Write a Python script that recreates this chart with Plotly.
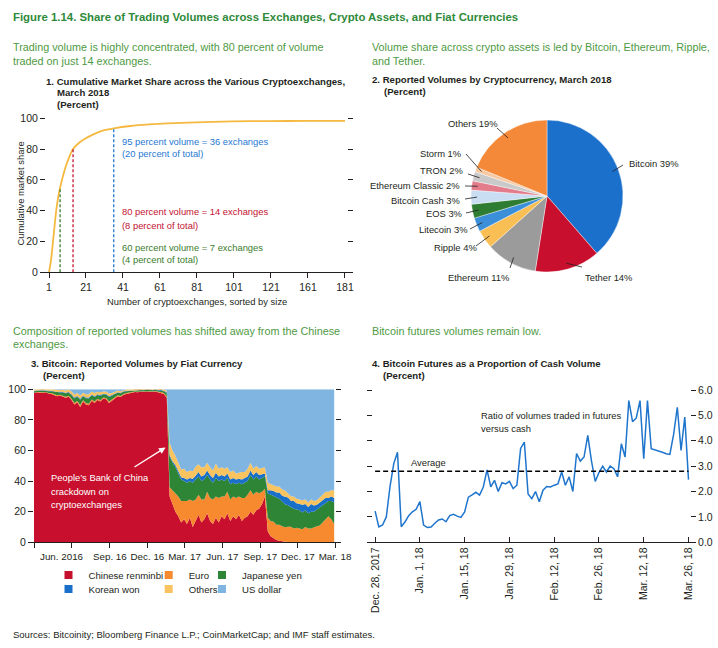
import math
import pandas as pd
import plotly.graph_objects as go

W, H = 718, 648
FONT = "Liberation Sans, Arial, sans-serif"
DARK = "#231f20"
GREEN_T = "#2f8a3a"
GREEN = "#4f9a44"

# ---------------- Panel 1 data ----------------
RANK = [1, 2, 3, 4, 5, 6, 7, 8, 10, 12, 14, 17, 20, 25, 30, 36, 45, 55, 65, 80, 100, 120, 140, 161]
CUM_SHARE = [0, 7, 18, 30, 41, 49, 55, 60, 68.6, 75, 80, 83.8, 86.4, 89.6, 92, 93.5, 95, 96,
             96.7, 97.4, 98, 98.2, 98.3, 98.3]
P1_TICKVALS = [1, 21, 41, 61, 81, 101, 121, 141, 161]
P1_TICKTEXT = ["1", "21", "41", "61", "81", "101", "121", "161", "181"]
THR_RANK = [7, 14, 36]
THR_SHARE = [55, 80, 93.5]
THR_COLORS = ["#3a7d2c", "#c41230", "#1f78d1"]

# ---------------- Panel 2 data ----------------
COINS = ["Bitcoin", "Tether", "Ethereum", "Ripple", "Litecoin", "EOS", "Bitcoin Cash",
         "Ethereum Classic", "TRON", "Storm", "Others"]
COIN_SHARE = [39, 14, 11, 4, 3, 3, 3, 2, 2, 1, 19]
COIN_COLORS = ["#1b70cc", "#c8102e", "#9b9b9b", "#f9bf55", "#3b8fd9", "#2e7d32", "#c9def3",
               "#e37d8c", "#c9c9c9", "#f7c9a2", "#f5893a"]

# ---------------- Panel 3 data (weekly, from 1 Mar 2016) ----------------
CNY = [97.5, 98.0, 97.8, 97.6, 98.0, 97.2, 97.0, 96.5,
       95.5, 96.0, 95.0, 94.5, 95.2,
       93.0, 90.0, 91.5, 88.5, 92.0, 90.0, 89.5, 92.5, 91.0, 93.0,
       92.0, 94.0, 93.5, 91.0, 92.5, 94.0, 95.5, 95.0, 96.5, 97.0,
       97.5, 98.0, 98.2, 98.0, 98.5, 98.3, 98.6, 98.4, 98.2, 98.5, 98.0, 97.8, 97.0, 94.5,
       30, 25, 20, 17, 13, 15, 12, 16, 10, 14,
       18, 13, 15, 19, 14, 12, 16, 13, 17, 15,
       19, 14, 17, 15, 18, 14, 16, 17, 20, 18,
       21, 22, 25, 30,
       7, 4, 2.5, 1.5, 1, 0.5, 0.3, 0.2, 0.1,
       0, 0, 0, 0, 0, 0, 0, 0, 0, 0, 0, 0, 0, 0, 0]
EUR = [0.3, 0.3, 0.4, 0.4, 0.3, 0.4, 0.5, 0.5, 0.6, 0.5,
       0.6, 0.7, 0.6, 0.8, 1.0, 0.9, 1.2, 0.9, 1.0, 1.1,
       0.9, 1.0, 0.8, 0.9, 0.7, 0.8, 1.0, 0.8, 0.7, 0.6,
       0.6, 0.5, 0.5, 0.4, 0.4, 0.3, 0.4, 0.3, 0.3, 0.3,
       0.4, 0.3, 0.4, 0.4, 0.5, 0.6, 1.0,
       6, 9, 12, 13, 14, 12, 15, 12, 17, 14,
       13, 15, 13, 14, 15, 16, 14, 16, 13, 15,
       14, 14, 13, 14, 12, 15, 13, 14, 14, 13,
       12, 10, 8, 5,
       9, 10, 11, 10, 10.5, 10, 9.5, 10, 10, 9,
       9.5, 9, 8.5, 10, 9, 9, 10, 10.5, 11, 13,
       15, 17, 15, 12]
JPY = [1.0, 0.8, 0.9, 1.0, 0.8, 1.2, 1.3, 1.5, 1.8, 1.6,
       2.0, 2.2, 2.0, 2.5, 3.0, 2.8, 3.5, 2.6, 3.2, 3.4,
       2.7, 3.0, 2.5, 2.8, 2.0, 2.2, 2.9, 2.4, 2.0, 1.6,
       1.8, 1.4, 1.3, 1.1, 0.9, 0.8, 0.9, 0.8, 0.7, 0.8,
       0.7, 0.8, 0.7, 0.9, 1.0, 1.2, 2.0,
       20, 18, 17, 15, 14, 13, 12, 12, 12, 13,
       12, 12, 13, 11, 12, 11, 12, 11, 11, 10,
       9, 10, 9, 9, 9, 9, 10, 9, 10, 10,
       10, 9, 9, 8,
       16, 17, 17, 18, 17, 16, 15, 14, 13, 13,
       12, 12, 11, 11, 10, 11, 10, 11, 12, 11,
       11, 10, 12, 14]
KRW = [0.2, 0.2, 0.2, 0.3, 0.2, 0.3, 0.3, 0.3, 0.3, 0.4,
       0.4, 0.4, 0.5, 0.5, 0.6, 0.5, 0.6, 0.5, 0.5, 0.6,
       0.5, 0.5, 0.4, 0.5, 0.4, 0.4, 0.5, 0.4, 0.4, 0.3,
       0.3, 0.3, 0.3, 0.2, 0.2, 0.2, 0.2, 0.2, 0.2, 0.2,
       0.2, 0.2, 0.2, 0.2, 0.3, 0.3, 0.5,
       1, 1, 1.5, 1.5, 1.5, 2, 2, 2, 2.5, 2.5,
       3, 3, 3, 3, 3, 3, 3.5, 3, 3, 3,
       3, 3, 3, 3, 2.5, 3, 3, 3, 3, 3,
       3, 3, 2.5, 2,
       2, 3, 3, 3, 4, 4, 5, 5, 4, 5,
       4, 4, 5, 4, 4, 5, 4, 3, 3, 3,
       3, 2, 3, 3]
OTH = [0.8, 0.7, 0.8, 0.9, 0.8, 1.0, 1.0, 1.1, 1.3, 1.2,
       1.5, 1.4, 1.6, 1.8, 2.0, 1.9, 2.2, 1.8, 2.0, 2.1,
       1.9, 2.0, 1.7, 1.8, 1.5, 1.6, 1.8, 1.5, 1.3, 1.2,
       1.1, 0.9, 0.8, 0.7, 0.6, 0.6, 0.6, 0.6, 0.5, 0.6,
       0.6, 0.5, 0.6, 0.6, 0.7, 0.8, 1.0,
       8, 7, 6, 6, 5, 6, 5, 5, 5, 6,
       5, 6, 5, 5, 5, 5, 6, 5, 5, 5,
       4, 5, 5, 4, 4, 5, 4, 5, 5, 4,
       4, 4, 4, 4,
       5, 4, 4, 4, 4, 4, 4, 3, 3, 3,
       3, 3, 3, 3, 3, 3, 3, 3, 3, 4,
       4, 4, 4, 5]
USD = [round(100 - a - b - c - d - e, 2) for a, b, c, d, e in zip(CNY, EUR, JPY, KRW, OTH)]
P3_DATES = pd.date_range("2016-03-01", periods=len(CNY), freq="7D")
P3_TICKVALS = ["2016-03-01", "2016-06-01", "2016-09-01", "2016-12-01", "2017-03-01",
               "2017-06-01", "2017-09-01", "2017-12-01", "2018-03-01"]
P3_TICKTEXT = ["", "", "Sep. 16", "Dec. 16", "Mar. 17", "Jun. 17",
               "Sep. 17", "Dec. 17", "Mar. 18"]
P3_FIRST_LABEL = "Jun. 2016"
FIAT = ["Chinese renminbi", "Euro", "Japanese yen", "Korean won", "Others", "US dollar"]
FIAT_COLORS = ["#c8102e", "#f7892f", "#2e8535", "#1a6fc9", "#f9c35f", "#80b5e1"]

# ---------------- Panel 4 data ----------------
FUT_RATIO = [1.23, 0.61, 0.68, 1.0, 2.2, 3.1, 3.55, 0.61, 0.8, 1.05,
             1.2, 1.3, 1.6, 0.68, 0.58, 0.6, 0.75, 0.88, 0.92, 0.81,
             1.05, 1.1, 1.03, 0.98, 1.2, 1.78, 1.87, 1.97, 1.86, 2.18,
             2.85, 2.18, 2.44, 2.0, 2.35, 2.3, 2.4, 2.12, 2.25, 3.7,
             3.95, 1.9, 1.72, 2.0, 1.6, 2.05, 2.2, 2.18, 2.25, 2.3,
             2.77, 2.25, 2.58, 2.0, 3.5, 3.2, 3.36, 4.21, 3.2, 2.4,
             2.75, 3.0, 2.77, 3.0, 2.9, 2.58, 3.88, 3.36, 5.58, 4.75,
             4.9, 5.58, 3.29, 5.58, 3.69, 3.65, 3.62, 3.55, 3.49, 3.46,
             4.24, 5.32, 3.62, 4.93, 2.47]
FUT_AVERAGE = 2.8
P4_TICKTEXT = ["Dec. 28, 2017", "Jan. 1, 18", "Jan. 15, 18", "Jan. 29, 18", "Feb. 12, 18",
               "Feb. 26, 18", "Mar. 12, 18", "Mar. 26, 18"]
P4_TICKVALS = [0, 12, 24, 36, 48, 60, 72, 84]

SMALL = 9.4


def PX(x):
    return x / W


def PY(y):
    return 1 - y / H


fig = go.Figure()
ann = []
shapes = []


def text(s, x, y, size=SMALL, color=DARK, bold=False, xanchor="left", yanchor="middle", angle=0):
    ann.append(dict(text=f"<b>{s}</b>" if bold else s, x=PX(x), y=PY(y), xref="paper",
                    yref="paper", xanchor=xanchor, yanchor=yanchor, showarrow=False,
                    textangle=angle, font=dict(size=size, color=color, family=FONT)))


# ---------- Panel 1 ----------
fig.add_trace(go.Scatter(x=RANK, y=CUM_SHARE, mode="lines", line=dict(color="#f5b940", width=1.8,
                         shape="spline", smoothing=0.6), showlegend=False, xaxis="x", yaxis="y"))
for r, s, c in zip(THR_RANK, THR_SHARE, THR_COLORS):
    fig.add_trace(go.Scatter(x=[r, r], y=[0, s], mode="lines",
                             line=dict(color=c, width=1.3, dash="3px,2px"),
                             showlegend=False, xaxis="x", yaxis="y"))

# ---------- Panel 2 ----------
PIE_CX, PIE_CY, PIE_R = 547, 196, 76
fig.add_trace(go.Pie(labels=COINS, values=COIN_SHARE, sort=False, direction="clockwise",
                     rotation=0, marker=dict(colors=COIN_COLORS, line=dict(color="white", width=0.4)),
                     textinfo="none", showlegend=False,
                     domain=dict(x=[PX(PIE_CX - PIE_R), PX(PIE_CX + PIE_R)],
                                 y=[PY(PIE_CY + PIE_R), PY(PIE_CY - PIE_R)])))
# label layout: (text anchor x, y, xanchor, leader outer x, y)
PIE_LABELS = {
    "Bitcoin": (627, 163, "left", 623, 165),
    "Tether": (608, 277, "center", 582, 267),
    "Ethereum": (478, 277, "center", 510, 268),
    "Ripple": (479, 248, "right", 476, 246),
    "Litecoin": (469, 229, "right", 470, 229),
    "EOS": (464, 213, "right", 466, 213),
    "Bitcoin Cash": (462, 200, "right", 465, 199),
    "Ethereum Classic": (462, 186, "right", 465, 186),
    "TRON": (465, 170, "right", 468, 174),
    "Storm": (463, 154, "right", 466, 154),
    "Others": (473, 123, "center", 497, 128),
}
total = sum(COIN_SHARE)
cum = 0
for name, v in zip(COINS, COIN_SHARE):
    theta = 2 * math.pi * (cum + v / 2) / total
    cum += v
    ix = PIE_CX + 0.92 * PIE_R * math.sin(theta)
    iy = PIE_CY - 0.92 * PIE_R * math.cos(theta)
    tx, ty, xa, ox, oy = PIE_LABELS[name]
    shapes.append(dict(type="line", xref="paper", yref="paper", x0=PX(ox), y0=PY(oy),
                       x1=PX(ix), y1=PY(iy), line=dict(color=DARK, width=0.8)))
    text(f"{name} {v}%", tx, ty, xanchor=xa)

# ---------- Panel 3 ----------
for name, vals, col in zip(FIAT, [CNY, EUR, JPY, KRW, OTH, USD], FIAT_COLORS):
    fig.add_trace(go.Scatter(x=P3_DATES, y=vals, mode="lines", stackgroup="fiat",
                             line=dict(width=0, color=col), fillcolor=col, name=name,
                             showlegend=False, xaxis="x2", yaxis="y2"))
LEG_POS = [(76.5, 575), (176.7, 575), (230, 575), (76.5, 589), (176.7, 589), (230, 589)]
legend_layouts = {}
for k, (name, col) in enumerate(zip(FIAT, FIAT_COLORS)):
    lname = "legend" if k == 0 else f"legend{k + 1}"
    fig.add_trace(go.Scatter(x=[None], y=[None], mode="markers", name=name,
                             marker=dict(symbol="square", size=8, color=col),
                             showlegend=True, legend=lname, xaxis="x2", yaxis="y2"))
    lx, ly = LEG_POS[k]
    legend_layouts[lname] = dict(x=PX(lx - 28), y=PY(ly), xanchor="left", yanchor="middle",
                                 bgcolor="rgba(0,0,0,0)", borderwidth=0, itemwidth=30,
                                 font=dict(size=9.6, color=DARK, family=FONT))

ann.append(dict(text="", x="2017-01-14", y=62, ax="2016-10-27", ay=48.6, xref="x2", yref="y2",
                axref="x2", ayref="y2", showarrow=True, arrowhead=2, arrowsize=1,
                arrowwidth=1.3, arrowcolor="white"))

# ---------- Panel 4 ----------
fig.add_trace(go.Scatter(x=list(range(len(FUT_RATIO))), y=FUT_RATIO, mode="lines",
                         line=dict(color="#1f75cc", width=1.5), showlegend=False,
                         xaxis="x3", yaxis="y3"))
fig.add_trace(go.Scatter(x=[0, len(FUT_RATIO) - 1], y=[FUT_AVERAGE, FUT_AVERAGE], mode="lines",
                         line=dict(color="black", width=1.3, dash="5px,3px"), showlegend=False,
                         xaxis="x3", yaxis="y3"))

# ---------- Texts ----------
TITLE = 11.4
SUB = 10.8
PT = 9.6
text("Figure 1.14. Share of Trading Volumes across Exchanges, Crypto Assets, and Fiat Currencies",
     11, 17, size=TITLE, color=GREEN_T, bold=True)
text("Trading volume is highly concentrated, with 80 percent of volume", 11, 47, size=SUB, color=GREEN)
text("traded on just 14 exchanges.", 11, 61, size=SUB, color=GREEN)
text("1. Cumulative Market Share across the Various Cryptoexchanges,", 44, 81.5, size=PT, bold=True)
text("March 2018", 55, 92.5, size=PT, bold=True)
text("(Percent)", 55, 104, size=PT, bold=True)
text("95 percent volume = 36 exchanges", 120, 141.7, color=THR_COLORS[2])
text("(20 percent of total)", 120, 153.3, color=THR_COLORS[2])
text("80 percent volume = 14 exchanges", 120, 211.7, color=THR_COLORS[1])
text("(8 percent of total)", 120, 225, color=THR_COLORS[1])
text("60 percent volume = 7 exchanges", 120, 247, color=THR_COLORS[0])
text("(4 percent of total)", 120, 259.7, color=THR_COLORS[0])
text("Cumulative market share", 19.5, 194, angle=-90, xanchor="center")
text("Number of cryptoexchanges, sorted by size", 197, 301.7, xanchor="center")

text("Volume share across crypto assets is led by Bitcoin, Ethereum, Ripple,", 370, 47, size=SUB, color=GREEN)
text("and Tether.", 370, 61, size=SUB, color=GREEN)
text("2. Reported Volumes by Cryptocurrency, March 2018", 370, 79.7, size=PT, bold=True)
text("(Percent)", 382, 92, size=PT, bold=True)

text("Composition of reported volumes has shifted away from the Chinese", 11, 331, size=SUB, color=GREEN)
text("exchanges.", 11, 344.3, size=SUB, color=GREEN)
text("3. Bitcoin: Reported Volumes by Fiat Currency", 29, 363.3, size=PT, bold=True)
text("(Percent)", 41, 375.7, size=PT, bold=True)
text("People\u2019s Bank of China", 49, 477, color="white")
text("crackdown on", 49, 491, color="white")
text("cryptoexchanges", 49, 504, color="white")
text(P3_FIRST_LABEL, 62, 556.5, size=9.8, xanchor="center")

text("Bitcoin futures volumes remain low.", 370, 331, size=SUB, color=GREEN)
text("4. Bitcoin Futures as a Proportion of Cash Volume", 370, 363.3, size=PT, bold=True)
text("(Percent)", 381, 375.7, size=PT, bold=True)
text("Average", 428, 463, xanchor="center")
text("Ratio of volumes traded in futures", 479, 415)
text("versus cash", 479, 428)

text("Sources: Bitcoinity; Bloomberg Finance L.P.; CoinMarketCap; and IMF staff estimates.", 11, 634, size=9.5)

tickfont = dict(size=10.5, color=DARK, family=FONT)
common = dict(showgrid=False, zeroline=False, automargin=False, tickfont=tickfont,
              tickcolor=DARK, ticklen=5, tickwidth=1)
noline = dict(showline=True, linecolor="rgba(0,0,0,0)", mirror="ticks")

layout = dict(
    width=W, height=H, margin=dict(l=0, r=0, t=0, b=0), plot_bgcolor="white",
    paper_bgcolor="white", font=dict(family=FONT, size=10, color=DARK),
    xaxis=dict(domain=[PX(46), PX(347)], range=[-0.62, 162.1], tickvals=P1_TICKVALS,
               ticktext=P1_TICKTEXT, ticks="outside", showline=True, linecolor=DARK,
               linewidth=1, anchor="y", tickangle=0, **common),
    yaxis=dict(domain=[PY(272.3), PY(118.3)], range=[0, 100], tickvals=[0, 20, 40, 60, 80, 100],
               ticks="outside", anchor="x", **noline, **common),
    xaxis2=dict(domain=[PX(34), PX(335)], range=["2016-03-01", "2018-03-01"],
                tickvals=P3_TICKVALS, ticktext=P3_TICKTEXT, ticks="outside", showline=True,
                linecolor=DARK, linewidth=1, anchor="y2", tickangle=0,
                **{**common, "tickfont": dict(size=9.8, color=DARK, family=FONT)}),
    yaxis2=dict(domain=[PY(542.3), PY(389.3)], range=[0, 100], tickvals=[0, 20, 40, 60, 80, 100],
                ticks="outside", anchor="x2", **noline, **common),
    xaxis3=dict(domain=[PX(372.5), PX(690)], range=[-0.7, 84.4], tickvals=P4_TICKVALS,
                ticktext=P4_TICKTEXT, tickangle=-90, ticks="inside", showline=True,
                linecolor=DARK, linewidth=1, anchor="y3", **common),
    yaxis3=dict(domain=[PY(542.3), PY(390)], range=[0, 6], tickvals=[0, 1, 2, 3, 4, 5, 6],
                tickformat=".1f", side="right", ticks="outside", anchor="x3", **noline, **common),
    annotations=ann, shapes=shapes,
)
layout.update(legend_layouts)
fig.update_layout(**layout)
fig.write_html("out.html", config={"displayModeBar": False},
               post_script="document.body.style.margin='0';")
